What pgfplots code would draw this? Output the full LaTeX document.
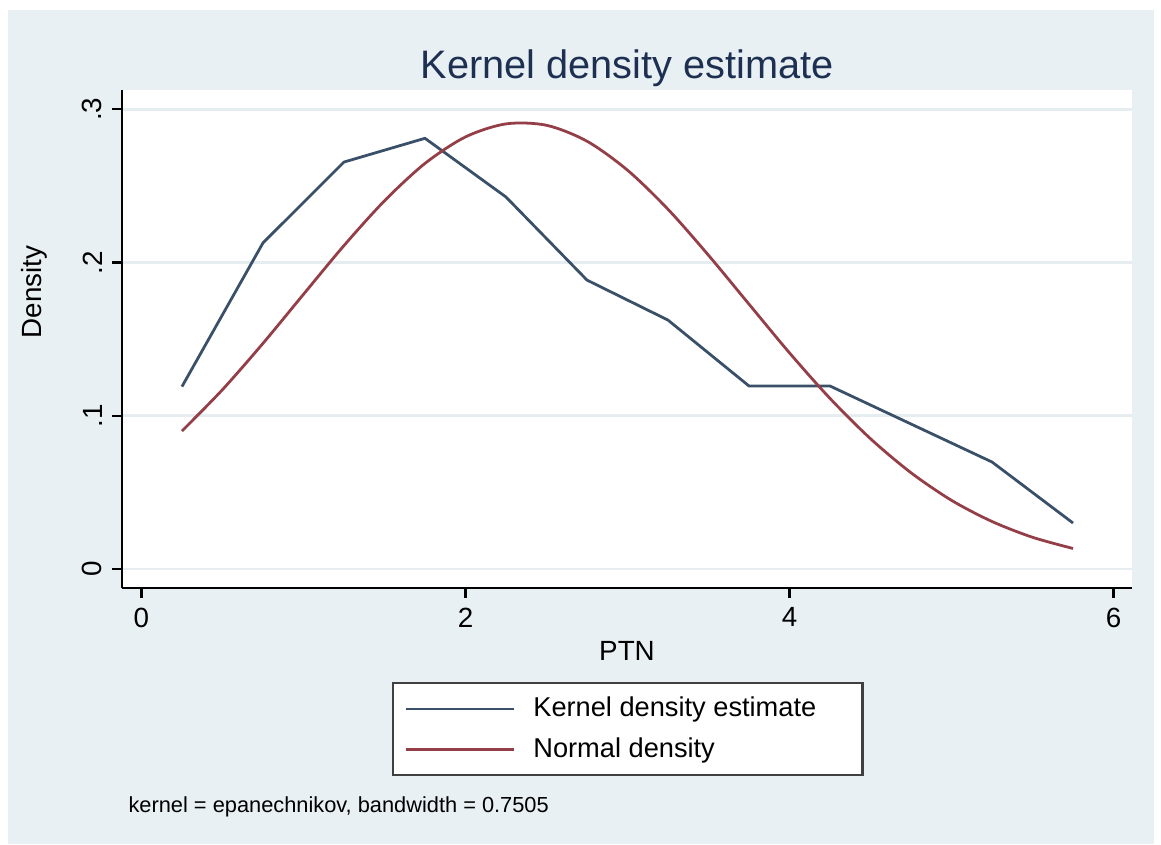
\documentclass[border=0pt]{standalone}
\usepackage{fontspec}
\setmainfont{Liberation Sans}
\usepackage{pgfplots}
\pgfplotsset{compat=1.18}
\definecolor{bgcol}{RGB}{232,240,243}
\definecolor{gridcol}{RGB}{230,237,240}
\definecolor{kdecol}{RGB}{58,80,104}
\definecolor{normcol}{RGB}{148,62,72}
\definecolor{titlecol}{RGB}{30,48,82}

\begin{document}
\begin{tikzpicture}
% page background, 1 unit = 1 pixel of the reference
\begin{scope}[x=0.36pt,y=-0.36pt]
\fill[white] (0,0) rectangle (1161,844);
\fill[bgcol] (8,10) rectangle (1154,844);
\end{scope}

\begin{axis}[
    at={(43.92pt,-211.68pt)}, anchor=south west,
    scale only axis, width=363.6pt, height=179.28pt,
    xmin=-0.120, xmax=6.114, ymin=-0.0124, ymax=0.3125,
    axis background/.style={fill=white},
    axis x line=bottom, axis y line=left,
    axis line style={-, line width=0.8pt, black},
    tick align=outside, major tick length=3.6pt,
    every tick/.style={black, line width=0.8pt},
    xtick={0,2,4,6}, xticklabels={0,2,4,6},
    ytick={0,0.1,0.2,0.3}, yticklabels={0,.1,.2,.3},
    yticklabel style={rotate=90, anchor=south},
    tick label style={font=\fontsize{10}{12}\selectfont},
    /pgf/number format/assume math mode=true,
    ymajorgrids, major grid style={gridcol, line width=1pt},
    legend style={
        at={(axis description cs:0.2673,-0.1888)}, anchor=north west,
        draw=black!75, line width=0.8pt, fill=white,
        inner xsep=4pt, inner ysep=1.7pt, row sep=-0.6pt, column sep=3pt,
        nodes={inner sep=3.3pt},
        font=\fontsize{9.8}{11}\selectfont,
    },
    legend cell align=left,
    legend image code/.code={\draw[#1] (0pt,0pt) -- (39.2pt,0pt);},
]
\addplot[kdecol, line width=1pt, line join=round] coordinates {
    (0.25,0.1190) (0.75,0.2127) (1.25,0.2655) (1.75,0.2810)
    (2.25,0.2427) (2.75,0.1885) (3.25,0.1624) (3.75,0.1194)
    (4.25,0.1194) (4.75,0.0946) (5.25,0.0698) (5.75,0.0300)
};
\addlegendentry{\makebox[111.2pt][l]{Kernel density estimate}}
\addplot[normcol, line width=1pt, smooth] coordinates {
    (0.25,0.0900) (0.50,0.1170) (0.75,0.1472) (1.00,0.1792)
    (1.25,0.2110) (1.50,0.2402) (1.75,0.2646) (2.00,0.2819)
    (2.25,0.2904) (2.50,0.2895) (2.75,0.2791) (3.00,0.2602)
    (3.25,0.2347) (3.50,0.2047) (3.75,0.1728) (4.00,0.1410)
    (4.25,0.1113) (4.50,0.0850) (4.75,0.0628) (5.00,0.0448)
    (5.25,0.0310) (5.50,0.0207) (5.75,0.0134)
};
\addlegendentry{Normal density}
\end{axis}

\begin{scope}[x=0.36pt,y=-0.36pt]
\node[anchor=base, text=titlecol, font=\fontsize{14.3}{17}\selectfont]
    at (627,78) {Kernel density estimate};
\node[anchor=base, font=\fontsize{10}{12}\selectfont] at (627,660) {PTN};
\node[rotate=90, font=\fontsize{10}{12}\selectfont] at (34,292) {Density};
\node[anchor=base west, inner sep=0pt, font=\fontsize{7.85}{9}\selectfont]
    at (128,812) {kernel = epanechnikov, bandwidth = 0.7505};
\end{scope}
\end{tikzpicture}
\end{document}
